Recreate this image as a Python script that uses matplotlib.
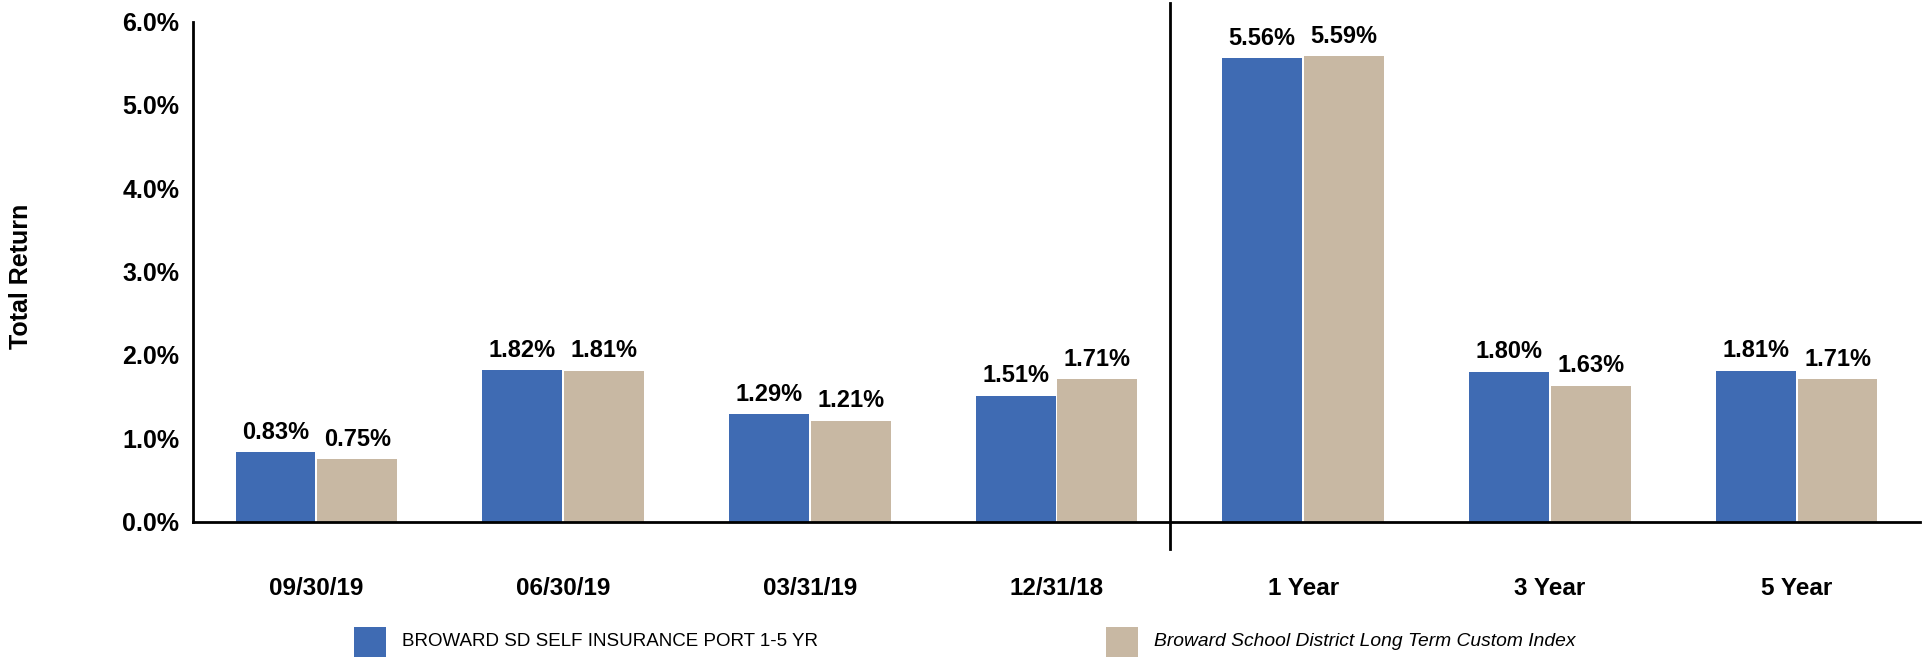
import matplotlib
matplotlib.use('Agg')
import matplotlib.pyplot as plt
from matplotlib import font_manager as fm
from matplotlib.patches import Rectangle
import numpy as np

categories = ['09/30/19', '06/30/19', '03/31/19', '12/31/18', '1 Year', '3 Year', '5 Year']
port = [0.83, 1.82, 1.29, 1.51, 5.56, 1.80, 1.81]
index = [0.75, 1.81, 1.21, 1.71, 5.59, 1.63, 1.71]
series_names = ['BROWARD SD SELF INSURANCE PORT 1-5 YR',
                'Broward School District Long Term Custom Index']
yticks = [0, 1, 2, 3, 4, 5, 6]

blue = '#3F6BB3'
tan = '#C8B8A3'

# narrow font if we have it
names = {f.name for f in fm.fontManager.ttflist}
if 'Liberation Sans Narrow' in names:
    narrow = 'Liberation Sans Narrow'
    nsize, tsize = 20, 20
    lsize1, lsize2 = 16.5, 17
else:
    narrow = 'Liberation Sans'
    nsize, tsize = 17, 17.5
    lsize1, lsize2 = 13.5, 13.9
wide = 'Liberation Sans'

fig = plt.figure(figsize=(19.23, 6.57), dpi=100)
ax = fig.add_axes([0.1004, 0.2062, 0.898, 0.7608])

x = np.arange(len(categories))
w = 0.324
off = 0.166
b1 = ax.bar(x - off, port, w, color=blue)
b2 = ax.bar(x + off, index, w, color=tan)

# value labels
for bars, vals in ((b1, port), (b2, index)):
    for r, v in zip(bars, vals):
        ax.annotate('%.2f%%' % v, (r.get_x() + r.get_width() / 2, r.get_height()),
                    xytext=(0, 6), textcoords='offset points', ha='center', va='bottom',
                    fontfamily=narrow, fontweight='bold', fontsize=nsize)

ax.set_xlim(-0.5, len(categories) - 0.5)
ax.set_ylim(0, 6)
ax.set_yticks(yticks)
ax.set_yticklabels(['%.1f%%' % t for t in yticks], fontfamily=wide, fontweight='bold', fontsize=18)
ax.set_xticks(x)
ax.set_xticklabels(categories, fontfamily=narrow, fontweight='bold', fontsize=tsize)
ax.tick_params(axis='y', length=0, pad=10)
ax.tick_params(axis='x', length=0, pad=40)

for s in ['top', 'right']:
    ax.spines[s].set_visible(False)
ax.spines['left'].set_linewidth(2)
ax.spines['bottom'].set_linewidth(2)

# divider between quarters and annualized periods
ax.axvline(3.46, ymin=-0.055, ymax=1.037, color='black', linewidth=2, clip_on=False)

ax.set_ylabel('Total Return', fontfamily=wide, fontweight='bold', fontsize=18)
ax.yaxis.set_label_coords(-0.0927, 0.49)

# legend drawn by hand
for sx, tx, col, name, style, fs in ((0.1841, 0.2090, blue, series_names[0], 'normal', lsize1),
                                     (0.5751, 0.6001, tan, series_names[1], 'italic', lsize2)):
    fig.patches.append(Rectangle((sx, 0.0), 0.01664, 0.0457, transform=fig.transFigure,
                                 facecolor=col, edgecolor='none'))
    fig.text(tx, 0.0259, name, fontfamily=narrow, fontstyle=style, fontsize=fs,
             va='center_baseline', ha='left')

fig.savefig('out.png', dpi=100)
